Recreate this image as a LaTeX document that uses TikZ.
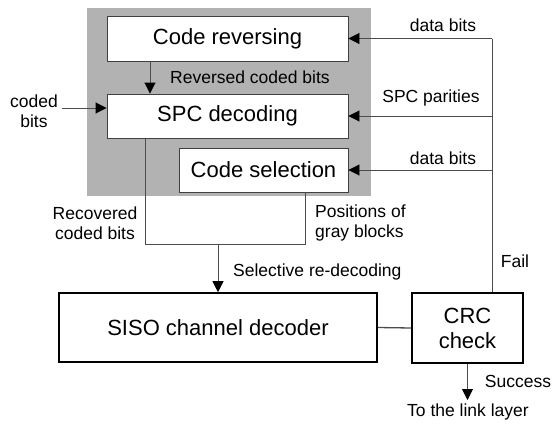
\documentclass[tikz,border=0pt]{standalone}
\usepackage{fontspec}
\setmainfont{Liberation Sans}
\usetikzlibrary{arrows.meta}
\begin{document}
\begin{tikzpicture}[x=1pt,y=-1pt,
  big/.style={font=\fontsize{22}{24}\selectfont},
  lbl/.style={font=\fontsize{17.5}{20}\selectfont, inner sep=0pt},
  upbox/.style={draw=black!75, line width=0.9pt, fill=white, inner sep=0pt, big},
  lowbox/.style={draw=black, line width=1.6pt, fill=white, inner sep=0pt, big},
  conn/.style={draw=black!70, line width=0.9pt},
  arr/.style={conn, -{Triangle[length=11pt,width=11pt,color=black]}}
]
\useasboundingbox (0,0) rectangle (558,426);
\fill[gray!60] (87,8) rectangle (371,196);
\node[upbox, minimum width=241pt, minimum height=45pt] (cr) at (227.5,38.5) {Code reversing};
\node[upbox, minimum width=241pt, minimum height=44pt] (spc) at (227.5,116) {SPC decoding};
\node[upbox, minimum width=169pt, minimum height=44pt] (cs) at (263.5,170) {Code selection};
\node[lowbox, minimum width=318pt, minimum height=69pt] (siso) at (218,327.5) {SISO channel decoder};
\node[lowbox, minimum width=111pt, minimum height=70pt, align=center, font=\fontsize{22}{25}\selectfont] (crc) at (467.5,328) {CRC\\check};

\coordinate (bt) at (492,38.5);
\coordinate (cb) at (62,108);
\coordinate (rv) at (150,61);
\coordinate (jl) at (145,244);
\coordinate (jr) at (305,244);
\coordinate (jm) at (218,244);
\coordinate (tl) at (467.5,400);

% right bus
\draw[conn] (bt) -- (bt |- crc.north);
\draw[arr] (bt) -- (cr.east);
\draw[arr] (bt |- spc.east) -- (spc.east);
\draw[arr] (bt |- cs.east) -- (cs.east);
% coded bits in
\draw[arr] (cb) -- (spc.west |- cb);
% reversed
\draw[arr] (cr.south -| rv) -- (spc.north -| rv);
% recovered
\draw[conn] (spc.south -| jl) -- (jl) -- (jr) -- (cs.south -| jr);
\draw[arr] (jm) -- (siso.north);
% siso - crc
\draw[conn, line width=1.3pt] (siso.east) -- (crc.west);
% success
\draw[arr] (crc.south) -- (tl);

% labels
\node[lbl, align=center] (lcb) at (34,111) {coded\\bits};
\node[lbl] (lrv) at (250,77) {Reversed coded bits};
\node[lbl] (ld1) at (443,25) {data bits};
\node[lbl] (lsp) at (431,98) {SPC parities};
\node[lbl] (ld2) at (443,158) {data bits};
\node[lbl, align=center] (lrc) at (95,223) {Recovered\\coded bits};
\node[lbl, align=left, anchor=west] (lpg) at (315,223) {Positions of\\gray blocks};
\node[lbl, anchor=west] (lsr) at (233,272) {Selective re-decoding};
\node[lbl] (lf) at (515,261) {Fail};
\node[lbl] (ls) at (518,381) {Success};
\node[lbl] (ltl) at (468,412) {To the link layer};
\end{tikzpicture}
\end{document}
